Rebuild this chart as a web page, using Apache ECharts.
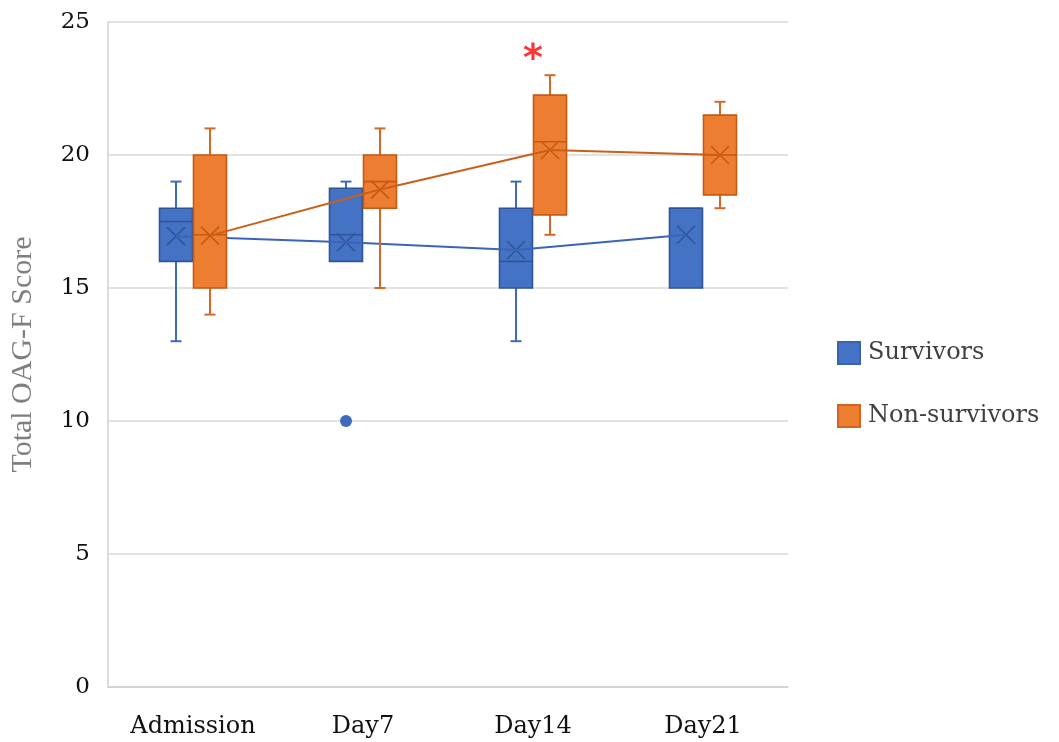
<!DOCTYPE html>
<html>
<head>
<meta charset="utf-8">
<script src="https://cdn.jsdelivr.net/npm/echarts@6/dist/echarts.min.js"></script>
<style>
html,body{margin:0;padding:0;background:#fff;}
#chart{width:1059px;height:742px;}
</style>
</head>
<body>
<div id="chart"></div>
<script>
const categories = ['Admission', 'Day7', 'Day14', 'Day21'];
// [min, q1, median, q3, max]
const survivorsBox = [
  [13, 16, 17.5, 18, 19],
  [16, 16, 17, 18.75, 19],
  [13, 15, 16, 18, 19],
  [15, 15, 18, 18, 18]
];
const survivorsMean = [16.95, 16.72, 16.43, 17.0];
const nonSurvivorsBox = [
  [14, 15, 17, 20, 21],
  [15, 18, 19, 20, 21],
  [17, 17.75, 20.5, 22.25, 23],
  [18, 18.5, 20, 21.5, 22]
];
const nonSurvivorsMean = [16.97, 18.7, 20.19, 20.0];
const survivorsOutliers = [[1, 10]];
const significanceMarks = [[2, 23.9]];
const yTicks = [0, 5, 10, 15, 20, 25];

const FONT = 'DejaVu Serif';

function buildData(box, mean) {
  return box.map((b, i) => [i, b[0], b[1], b[2], b[3], b[4], mean[i],
    i < mean.length - 1 ? mean[i + 1] : NaN]);
}

function makeRender(offset, fill, dark, whisker, lineColor) {
  const halfW = 16.5, cap = 5.5, xs = 9;
  return function (params, api) {
    const ci = api.value(0);
    const px = v => api.coord([ci, v]);
    const cx = px(0)[0] + offset;
    const yMin = px(api.value(1))[1], yQ1 = px(api.value(2))[1], yMed = px(api.value(3))[1],
          yQ3 = px(api.value(4))[1], yMax = px(api.value(5))[1], yMean = px(api.value(6))[1];
    const children = [];
    if (api.value(5) > api.value(4)) {
      children.push({type: 'line', shape: {x1: cx, y1: yQ3, x2: cx, y2: yMax}, style: {stroke: whisker, lineWidth: 2}});
      children.push({type: 'line', shape: {x1: cx - cap, y1: yMax, x2: cx + cap, y2: yMax}, style: {stroke: whisker, lineWidth: 2}});
    }
    if (api.value(1) < api.value(2)) {
      children.push({type: 'line', shape: {x1: cx, y1: yQ1, x2: cx, y2: yMin}, style: {stroke: whisker, lineWidth: 2}});
      children.push({type: 'line', shape: {x1: cx - cap, y1: yMin, x2: cx + cap, y2: yMin}, style: {stroke: whisker, lineWidth: 2}});
    }
    children.push({type: 'rect', shape: {x: cx - halfW, y: yQ3, width: halfW * 2, height: yQ1 - yQ3},
      style: {fill: fill, stroke: dark, lineWidth: 1.6}});
    children.push({type: 'line', shape: {x1: cx - halfW, y1: yMed, x2: cx + halfW, y2: yMed}, style: {stroke: dark, lineWidth: 1.6}});
    children.push({type: 'line', shape: {x1: cx - xs, y1: yMean - xs, x2: cx + xs, y2: yMean + xs}, style: {stroke: dark, lineWidth: 1.6}});
    children.push({type: 'line', shape: {x1: cx - xs, y1: yMean + xs, x2: cx + xs, y2: yMean - xs}, style: {stroke: dark, lineWidth: 1.6}});
    const nextMean = api.value(7);
    if (!isNaN(nextMean)) {
      const p2 = api.coord([ci + 1, nextMean]);
      children.push({type: 'line', z2: 10, shape: {x1: cx, y1: yMean, x2: p2[0] + offset, y2: p2[1]}, style: {stroke: lineColor, lineWidth: 2}});
    }
    return {type: 'group', children: children};
  };
}

const chart = echarts.init(document.getElementById('chart'), null, {renderer: 'canvas'});
chart.setOption({
  animation: false,
  backgroundColor: '#fff',
  grid: {left: 108, right: 271, top: 22, bottom: 55, containLabel: false, outerBoundsMode: 'none'},
  legend: {
    orient: 'vertical', left: 832, top: 336,
    itemWidth: 22, itemHeight: 22, itemGap: 39,
    icon: 'rect',
    textStyle: {fontFamily: FONT, fontSize: 24, color: '#404040', padding: [0, 0, 0, 3]},
    data: ['Survivors', 'Non-survivors']
  },
  xAxis: {
    type: 'category', data: categories,
    axisLine: {show: true, lineStyle: {color: '#d0d0d0', width: 1.5}},
    axisTick: {show: false},
    axisLabel: {fontFamily: FONT, fontSize: 24, color: '#111', margin: 28}
  },
  yAxis: {
    type: 'value', min: yTicks[0], max: yTicks[yTicks.length - 1], interval: 5,
    name: 'Total OAG-F Score', nameLocation: 'middle', nameGap: 70, nameRotate: 90,
    nameTextStyle: {fontFamily: 'Liberation Serif', fontSize: 30, color: '#7f7f7f'},
    axisLine: {show: true, lineStyle: {color: '#d0d0d0', width: 1.5}},
    axisTick: {show: false},
    splitLine: {lineStyle: {color: '#d9d9d9', width: 1.5}},
    axisLabel: {fontFamily: FONT, fontSize: 23, color: '#111', margin: 18}
  },
  series: [
    {
      name: 'Survivors', type: 'custom', z: 2,
      itemStyle: {color: '#4472C4', borderColor: '#3b64b0', borderWidth: 1},
      renderItem: makeRender(-17, '#4472C4', '#2F5597', '#3f6bbf', '#3a64b8'),
      data: buildData(survivorsBox, survivorsMean)
    },
    {
      name: 'Non-survivors', type: 'custom', z: 3,
      itemStyle: {color: '#ED7D31', borderColor: '#d0661f', borderWidth: 1},
      renderItem: makeRender(17, '#ED7D31', '#C55A11', '#d2692a', '#c8601c'),
      data: buildData(nonSurvivorsBox, nonSurvivorsMean)
    },
    {
      name: 'Survivors', type: 'scatter', z: 4,
      symbol: 'circle', symbolSize: 12, symbolOffset: [-17, 0],
      itemStyle: {color: '#3f6bbf', opacity: 1},
      data: survivorsOutliers
    },
    {
      type: 'scatter', z: 5, symbolSize: 0, silent: true,
      label: {show: true, formatter: '*', position: 'inside', offset: [0, 9],
        fontFamily: 'DejaVu Sans', fontSize: 38, fontWeight: 'bold', color: '#ff0000'},
      data: significanceMarks
    }
  ]
});
</script>
</body>
</html>
